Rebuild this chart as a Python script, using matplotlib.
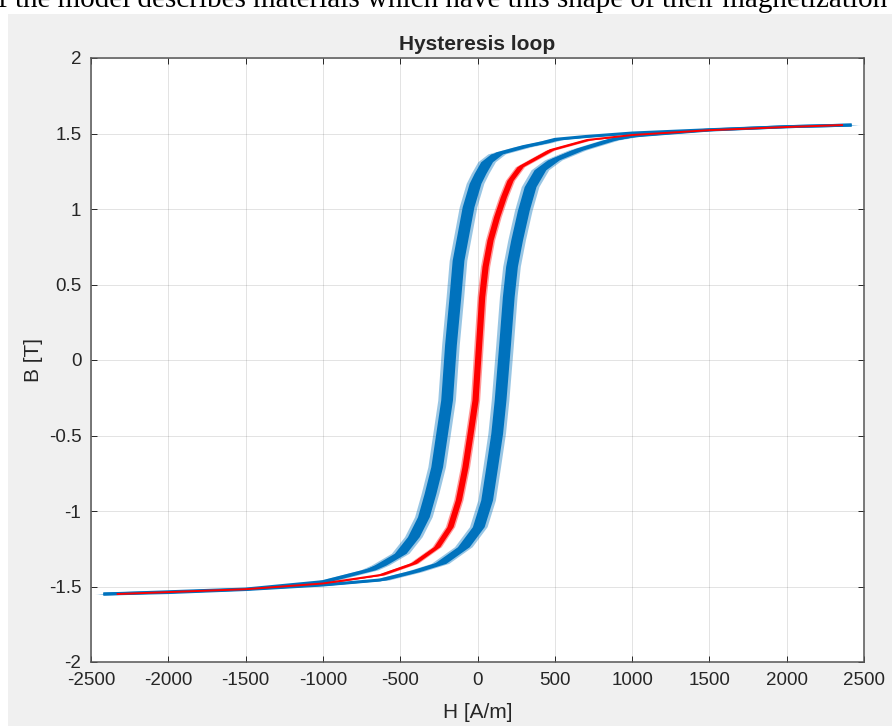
"""
Hysteresis loop: measured B-H loop (blue, two branches) and the anhysteretic curve (red).
MATLAB-like look: grey figure, white box axes, inward ticks on all four sides.
"""
import matplotlib.pyplot as plt
from matplotlib.patches import Rectangle

# ---- data (H in A/m, B in T)
# upper (descending) branch of the loop
H_DESC = [2420, 2000, 1500, 1000, 700, 500, 424, 296, 124, 59, 16, -16, -61, -93, -126,
          -146, -175, -200, -232, -264, -307, -350, -415, -500, -630, -700, -1000, -1500,
          -2000, -2420]
B_DESC = [1.556, 1.545, 1.525, 1.503, 1.48, 1.461, 1.44, 1.413, 1.365, 1.313, 1.236, 1.17,
          1.015, 0.84, 0.66, 0.42, 0.10, -0.265, -0.486, -0.707, -0.883, -1.038, -1.17,
          -1.28, -1.358, -1.39, -1.468, -1.517, -1.535, -1.55]

# lower (ascending) branch of the loop
H_ASC = [-2420, -2000, -1500, -1000, -630, -415, -243, -92, 5, 59, 92, 124, 146, 175, 199,
         220, 253, 296, 340, 404, 490, 643, 857, 1000, 1500, 2000, 2420]
B_ASC = [-1.55, -1.54, -1.52, -1.49, -1.457, -1.402, -1.347, -1.237, -1.104, -0.927, -0.707,
         -0.486, -0.265, 0.10, 0.42, 0.62, 0.795, 0.99, 1.148, 1.26, 1.325, 1.39, 1.457,
         1.483, 1.523, 1.545, 1.556]

# anhysteretic curve
H_ANH = [-2334, -2000, -1500, -1000, -630, -415, -264, -178, -124, -81, -48, -16, 27, 49,
         81, 124, 167, 210, 275, 470, 708, 1000, 1500, 2000, 2364]
B_ANH = [-1.55, -1.537, -1.518, -1.48, -1.424, -1.347, -1.237, -1.104, -0.927, -0.707,
         -0.486, -0.265, 0.42, 0.62, 0.795, 0.95, 1.08, 1.19, 1.28, 1.39, 1.457, 1.49,
         1.522, 1.543, 1.556]

# spread of the measured H signal (half width of the noisy band), A/m
NOISE_BLUE = 38
NOISE_RED = 20

X_TICKS = [-2500, -2000, -1500, -1000, -500, 0, 500, 1000, 1500, 2000, 2500]
Y_TICKS = [-2, -1.5, -1, -0.5, 0, 0.5, 1, 1.5, 2]
Y_TICKLABELS = ["-2", "-1.5", "-1", "-0.5", "0", "0.5", "1", "1.5", "2"]

BLUE = "#0072bd"
RED = "#ff0000"

plt.rcParams.update(
    {
        "font.family": ["Liberation Sans", "DejaVu Sans"],
        "axes.unicode_minus": False,
        "text.color": "#262626",
        "axes.labelcolor": "#262626",
        "xtick.color": "#262626",
        "ytick.color": "#262626",
    }
)


def band(ax, h, b, half, color, lw):
    # noisy band around the branch + a core line so the flat tails keep thickness
    lo = [v - half for v in h]
    hi = [v + half for v in h]
    wide_lo = [v - 1.5 * half for v in h]
    wide_hi = [v + 1.5 * half for v in h]
    ax.fill_betweenx(b, wide_lo, wide_hi, color=color, alpha=0.4, lw=0)
    ax.fill_betweenx(b, lo, hi, color=color, lw=0)
    ax.plot(h, b, color=color, lw=lw, solid_capstyle="butt")


def main() -> None:
    fig = plt.figure(figsize=(8.92, 7.26), dpi=100, facecolor="white")
    # grey figure panel (the screenshot has a white strip on top and left)
    fig.patches.append(Rectangle((8 / 892, 0), 1, 1 - 14 / 726, transform=fig.transFigure,
                                 facecolor="#f0f0f0", edgecolor="none", zorder=-10))
    fig.text(-0.002, 1 - 7 / 726, "f the model describes materials which have this shape of their magnetization",
             family="Liberation Serif", fontsize=21, color="black", va="baseline", ha="left")

    ax = fig.add_axes([91 / 892, 1 - 662 / 726, 773 / 892, 604 / 726])
    ax.set_facecolor("white")

    band(ax, H_DESC, B_DESC, NOISE_BLUE, BLUE, 2.2)
    band(ax, H_ASC, B_ASC, NOISE_BLUE, BLUE, 2.2)
    band(ax, H_ANH, B_ANH, NOISE_RED, RED, 1.4)

    ax.set_xlim(-2500, 2500)
    ax.set_ylim(-2, 2)
    ax.set_xticks(X_TICKS)
    ax.set_yticks(Y_TICKS)
    ax.set_yticklabels(Y_TICKLABELS)
    ax.tick_params(direction="in", length=4, width=0.7, top=True, right=True,
                   labelsize=13.5, pad=7)
    ax.grid(True, color="#262626", alpha=0.15, lw=0.6)
    ax.set_axisbelow(True)
    for s in ax.spines.values():
        s.set_color("#555555")
        s.set_linewidth(1.1)

    ax.set_title("Hysteresis loop", fontsize=15, fontweight="bold", pad=6)
    ax.set_xlabel("H [A/m]", fontsize=15, labelpad=10)
    ax.set_ylabel("B [T]", fontsize=15, labelpad=4)

    fig.savefig("out.png", dpi=100)
    plt.close(fig)


if __name__ == "__main__":
    main()
